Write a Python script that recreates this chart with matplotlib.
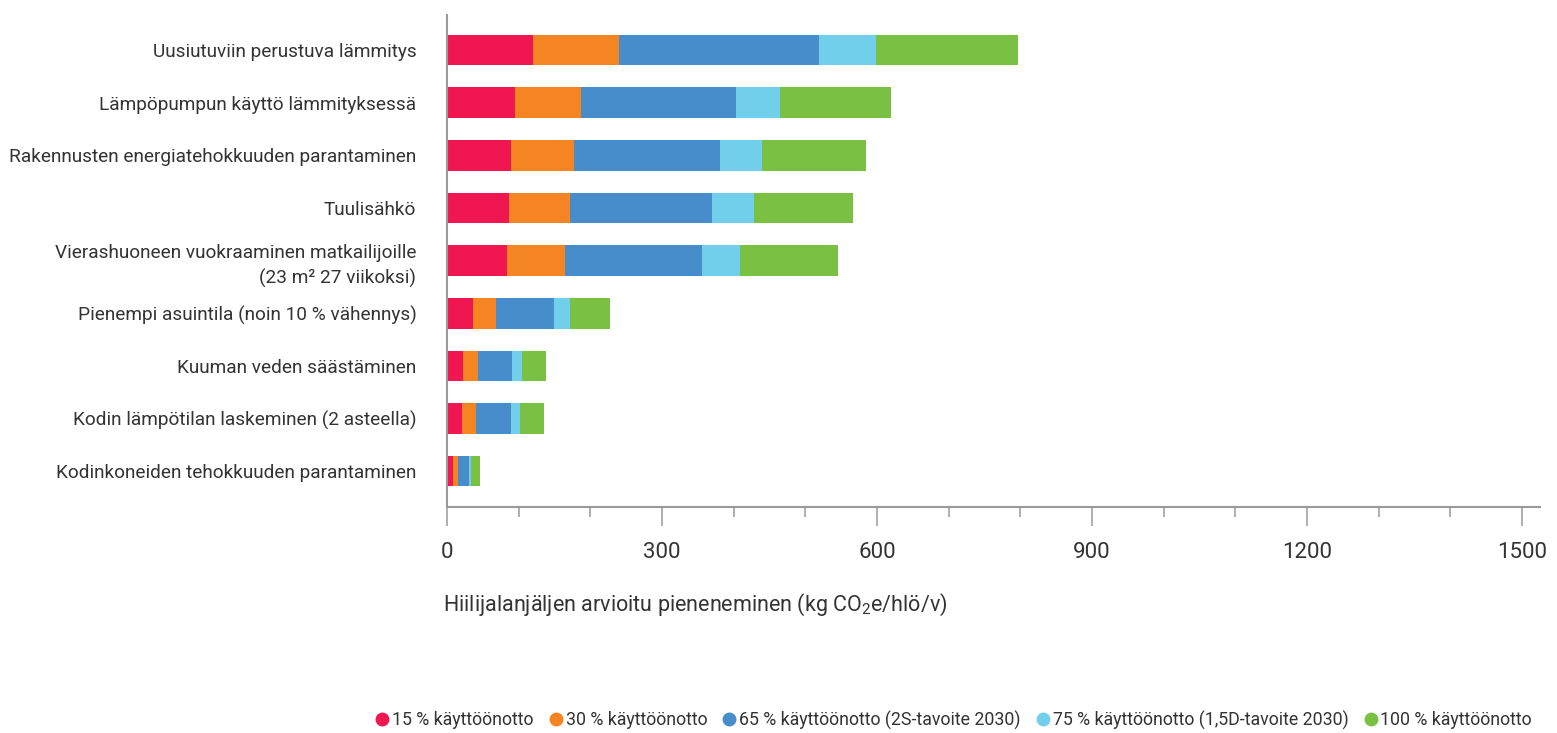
import matplotlib
matplotlib.use("Agg")
import matplotlib.pyplot as plt
from matplotlib.lines import Line2D
from matplotlib.ticker import MultipleLocator

categories = [
    "Uusiutuviin perustuva lämmitys",
    "Lämpöpumpun käyttö lämmityksessä",
    "Rakennusten energiatehokkuuden parantaminen",
    "Tuulisähkö",
    "Vierashuoneen vuokraaminen matkailijoille\n(23 m² 27 viikoksi)",
    "Pienempi asuintila (noin 10 % vähennys)",
    "Kuuman veden säästäminen",
    "Kodin lämpötilan laskeminen (2 asteella)",
    "Kodinkoneiden tehokkuuden parantaminen",
]

# cumulative reduction at each adoption level (kg CO2e/person/year)
adopt_15 = [120, 95, 89, 86, 84, 36, 23, 21, 8]
adopt_30 = [240, 187, 177, 172, 165, 69, 43, 41, 15]
adopt_65 = [519, 403, 381, 370, 356, 149, 91, 89, 30]
adopt_75 = [598, 465, 439, 428, 409, 172, 104, 102, 34]
adopt_100 = [796, 620, 585, 567, 545, 228, 138, 136, 46]

series_labels = [
    "15 % käyttöönotto",
    "30 % käyttöönotto",
    "65 % käyttöönotto (2S-tavoite 2030)",
    "75 % käyttöönotto (1,5D-tavoite 2030)",
    "100 % käyttöönotto",
]
colors = ["#EF1651", "#F58523", "#478DCB", "#72CFEC", "#7AC143"]

xticks = [0, 300, 600, 900, 1200, 1500]

FONT = "Roboto"
TXT = "#333333"
plt.rcParams["font.family"] = [FONT, "DejaVu Sans"]
plt.rcParams["mathtext.fontset"] = "custom"
plt.rcParams["mathtext.rm"] = FONT
plt.rcParams["mathtext.it"] = FONT

fig = plt.figure(figsize=(15.57, 7.33), dpi=100)
ax = fig.add_axes([447 / 1557, 1 - 507 / 733, (1540 - 447) / 1557, (507 - 15) / 733])

y = list(range(len(categories)))
series = [adopt_15, adopt_30, adopt_65, adopt_75, adopt_100]
for vals, col in reversed(list(zip(series, colors))):
    ax.barh(y, vals, height=0.58, color=col, edgecolor="none", zorder=2)

ax.set_ylim(len(categories) - 1 + 0.68, -0.665)
ax.set_xlim(0, 1525)
ax.set_yticks(y)
ax.set_yticklabels(categories, fontsize=13.7, color=TXT)
for lab in ax.get_yticklabels():
    lab.set_linespacing(1.45)
ax.tick_params(axis="y", length=0, pad=22)

ax.set_xticks(xticks)
ax.set_xticklabels([str(v) for v in xticks], fontsize=16, color=TXT)
ax.xaxis.set_minor_locator(MultipleLocator(100))
ax.tick_params(axis="x", which="major", length=14, width=1.1, color="#9a9a9a", pad=11)
ax.tick_params(axis="x", which="minor", length=7, width=1.1, color="#9a9a9a")

for s in ["top", "right"]:
    ax.spines[s].set_visible(False)
for s in ["left", "bottom"]:
    ax.spines[s].set_color("#9a9a9a")
    ax.spines[s].set_linewidth(1.5)

fig.text(443 / 1557, 1 - 605 / 733,
         "Hiilijalanjäljen arvioitu pieneneminen (kg CO$_2$e/hlö/v)",
         fontsize=15.5, color=TXT, ha="left", va="center")

handles = [Line2D([], [], marker="o", linestyle="none", markersize=10,
                  markerfacecolor=c, markeredgecolor="none") for c in colors]
fig.legend(handles, series_labels, loc="center right", ncol=5,
           bbox_to_anchor=(1532 / 1557, 1 - 720 / 733), frameon=False,
           fontsize=12.8, handlelength=0.7, handletextpad=0.2,
           columnspacing=0.9, labelcolor=TXT, borderaxespad=0, borderpad=0)

fig.savefig("out.png", dpi=100)
